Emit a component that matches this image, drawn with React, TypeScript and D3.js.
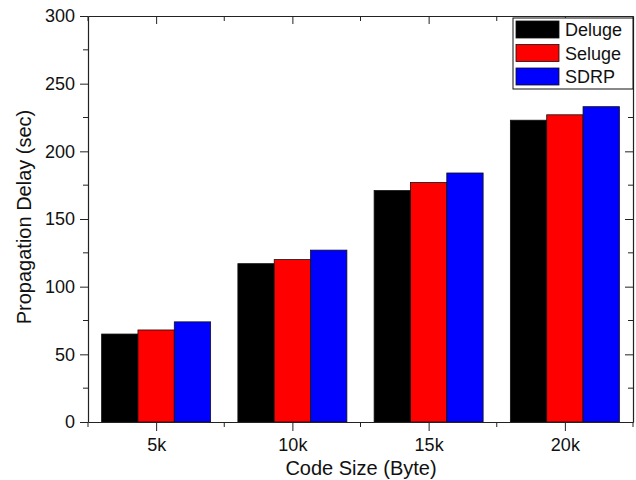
import React, { useEffect, useRef } from 'react';
import * as d3 from 'd3';

const categories = [5, 10, 15, 20];
const tickLabels = ['5k', '10k', '15k', '20k'];
const seriesNames = ['Deluge', 'Seluge', 'SDRP'];
const seriesColors = ['#000000', '#ff0000', '#0000ff'];
const deluge = [65, 117, 171, 223];
const seluge = [68, 120, 177, 227];
const sdrp = [74, 127, 184, 233];
const yTicks = [0, 50, 100, 150, 200, 250, 300];

const W = 636;
const H = 480;
const margin = { top: 16, right: 3, bottom: 58, left: 88 };
const font = '"Liberation Sans", Arial, sans-serif';

function App() {
  const ref = useRef<SVGSVGElement>(null);

  useEffect(() => {
    const svg = d3.select(ref.current);
    svg.selectAll('*').remove();

    const x = d3.scaleLinear().domain([2.5, 22.5]).range([margin.left, W - margin.right]);
    const y = d3.scaleLinear().domain([0, 300]).range([H - margin.bottom, margin.top]);
    const series = [deluge, seluge, sdrp];
    const groupW = x(4) - x(0);
    const barW = groupW / series.length;

    // bars
    series.forEach((vals, si) => {
      svg.append('g')
        .selectAll('rect')
        .data(vals)
        .join('rect')
        .attr('x', (d, i) => x(categories[i]) - groupW / 2 + si * barW)
        .attr('y', d => y(d))
        .attr('width', barW)
        .attr('height', d => y(0) - y(d))
        .attr('fill', seriesColors[si])
        .attr('stroke', '#111')
        .attr('stroke-width', 0.8);
    });

    const minorX = d3.range(2.5, 22.6, 2.5).filter(v => v % 5 !== 0);
    const minorY = d3.range(25, 300, 50);
    const axisColor = '#222';

    // bottom axis
    const bottom = svg.append('g')
      .attr('transform', `translate(0,${y(0)})`)
      .call(d3.axisBottom(x).tickValues(categories).tickSize(9).tickSizeOuter(0)
        .tickFormat((d, i) => tickLabels[i]));
    bottom.append('g').selectAll('line').data(minorX).join('line')
      .attr('x1', d => x(d)).attr('x2', d => x(d)).attr('y1', 0).attr('y2', 5)
      .attr('stroke', axisColor);

    // left axis
    const left = svg.append('g')
      .attr('transform', `translate(${margin.left},0)`)
      .call(d3.axisLeft(y).tickValues(yTicks).tickSize(8).tickSizeOuter(0));
    left.append('g').selectAll('line').data(minorY).join('line')
      .attr('x1', -5).attr('x2', 0).attr('y1', d => y(d)).attr('y2', d => y(d))
      .attr('stroke', axisColor);

    // top axis (inward ticks)
    const top = svg.append('g')
      .attr('transform', `translate(0,${margin.top})`)
      .call(d3.axisTop(x).tickValues(categories).tickSize(-8).tickSizeOuter(0).tickFormat(() => ''));
    top.append('g').selectAll('line').data(minorX).join('line')
      .attr('x1', d => x(d)).attr('x2', d => x(d)).attr('y1', 0).attr('y2', 5)
      .attr('stroke', axisColor);

    // right axis (inward ticks)
    const right = svg.append('g')
      .attr('transform', `translate(${W - margin.right},0)`)
      .call(d3.axisRight(y).tickValues(yTicks).tickSize(-8).tickSizeOuter(0).tickFormat(() => ''));
    right.append('g').selectAll('line').data(minorY).join('line')
      .attr('x1', -5).attr('x2', 0).attr('y1', d => y(d)).attr('y2', d => y(d))
      .attr('stroke', axisColor);

    svg.selectAll('.domain').attr('stroke', axisColor).attr('stroke-width', 1.2);
    svg.selectAll('.tick line').attr('stroke', axisColor);
    svg.selectAll('.tick text')
      .attr('font-family', font)
      .attr('font-size', 18)
      .attr('fill', '#111');
    left.selectAll('.tick text').attr('x', -13);
    bottom.selectAll('.tick text').attr('y', 16);

    // axis titles
    svg.append('text')
      .attr('x', 361)
      .attr('y', 475)
      .attr('text-anchor', 'middle')
      .attr('font-family', font)
      .attr('font-size', 20)
      .attr('fill', '#111')
      .text('Code Size (Byte)');
    svg.append('text')
      .attr('transform', 'translate(31,217) rotate(-90)')
      .attr('text-anchor', 'middle')
      .attr('font-family', font)
      .attr('font-size', 20)
      .attr('fill', '#111')
      .text('Propagation Delay (sec)');

    // legend
    const lg = svg.append('g').attr('transform', 'translate(513,18)');
    lg.append('rect')
      .attr('width', 120).attr('height', 71)
      .attr('fill', '#fff').attr('stroke', '#111').attr('stroke-width', 1);
    seriesNames.forEach((name, i) => {
      lg.append('rect')
        .attr('x', 3).attr('y', 3 + i * 23.5)
        .attr('width', 43).attr('height', 17)
        .attr('fill', seriesColors[i]).attr('stroke', '#111').attr('stroke-width', 0.8);
      lg.append('text')
        .attr('x', 52).attr('y', 18 + i * 23.5)
        .attr('font-family', font).attr('font-size', 18).attr('fill', '#111')
        .text(name);
    });
  }, []);

  return <svg ref={ref} width={W} height={H} style={{ position: 'absolute', left: 0, top: 0 }} />;
}

export default App;
